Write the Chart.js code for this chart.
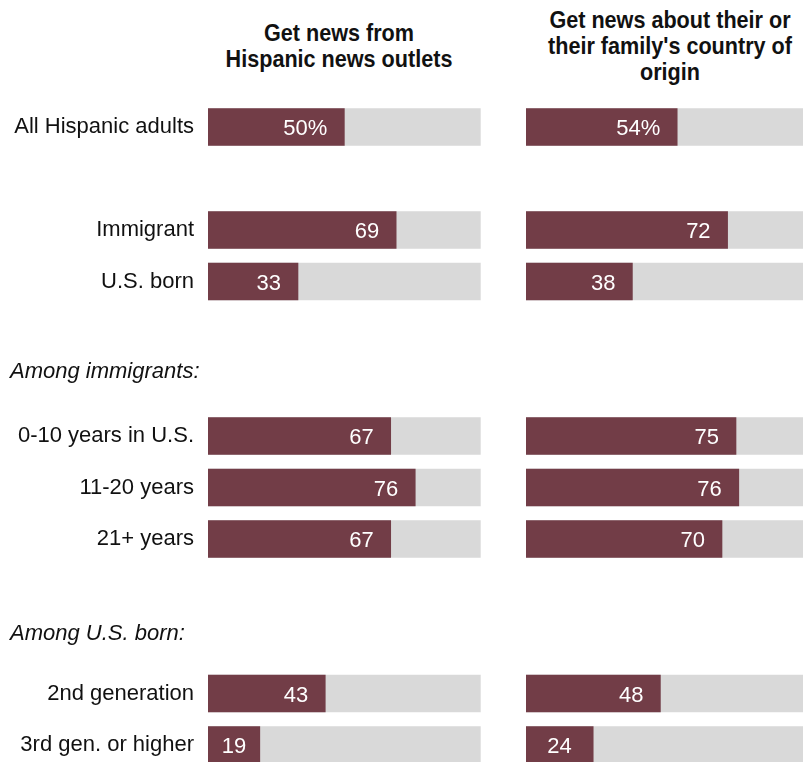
<!DOCTYPE html>
<html>
<head>
<meta charset="utf-8">
<script src="https://cdn.jsdelivr.net/npm/chart.js@4/dist/chart.umd.min.js"></script>
<style>
  html, body { margin: 0; padding: 0; background: #fff; overflow: hidden; }
  #wrap { position: relative; width: 803px; height: 762px; overflow: hidden; }
  canvas { position: absolute; top: 0; }
  #leftChart { left: 0; }
  #rightChart { left: 500px; }
  .title {
    position: absolute;
    font: bold 24px 'Liberation Sans', Arial, sans-serif;
    line-height: 26px;
    text-align: center;
    color: #111;
    white-space: nowrap;
    transform: scaleX(0.9);
  }
</style>
</head>
<body>
<div id="wrap">
  <div class="title" style="left:189px; width:300px; top:20px;">Get news from<br>Hispanic news outlets</div>
  <div class="title" style="left:520px; width:300px; top:7px;">Get news about their or<br>their family's country of<br>origin</div>
  <canvas id="leftChart" width="490" height="800"></canvas>
  <canvas id="rightChart" width="320" height="800"></canvas>
</div>
<script>
  // rows with '' are spacer rows (group headers sit in them)
  const categories = ['All Hispanic adults', '', 'Immigrant', 'U.S. born', '', '',
    '0-10 years in U.S.', '11-20 years', '21+ years', '', '', '2nd generation', '3rd gen. or higher'];
  const hispanicOutlets = [50, null, 69, 33, null, null, 67, 76, 67, null, null, 43, 19];
  const countryOfOrigin = [54, null, 72, 38, null, null, 75, 76, 70, null, null, 48, 24];
  const fullBar = [100, null, 100, 100, null, null, 100, 100, 100, null, null, 100, 100];
  const groupHeaders = ['Among immigrants:', 'Among U.S. born:'];
  const headerRows = [5, 10];

  const MAROON = '#723d47';
  const GREY = '#d9d9d9';
  const FONT = '"Liberation Sans", Arial, sans-serif';

  const valueLabels = {
    id: 'valueLabels',
    afterDatasetsDraw(chart) {
      const ctx = chart.ctx;
      const meta = chart.getDatasetMeta(1);
      const values = chart.data.datasets[1].data;
      ctx.save();
      ctx.font = '22px ' + FONT;
      ctx.fillStyle = '#fff';
      ctx.textBaseline = 'alphabetic';
      meta.data.forEach((bar, i) => {
        const v = values[i];
        if (v == null) return;
        const { x, y, base } = bar.getProps(['x', 'y', 'base'], true);
        const txt = i === 0 ? v + '%' : String(v);
        const w = ctx.measureText(txt).width;
        let tx;
        if (x - base < 70) {
          tx = (x + base) / 2 - w / 2;  // short bars: centre the number
        } else {
          tx = x - 17 - w;
        }
        ctx.fillText(txt, tx, y + 8);
      });
      ctx.restore();
    }
  };

  const headerLabels = {
    id: 'headerLabels',
    afterDraw(chart) {
      const ctx = chart.ctx;
      const yScale = chart.scales.y;
      ctx.save();
      ctx.font = 'italic 22px ' + FONT;
      ctx.fillStyle = '#111';
      ctx.textBaseline = 'alphabetic';
      const shifts = [-7, -2];
      groupHeaders.forEach((h, k) => {
        ctx.fillText(h, 10, yScale.getPixelForValue(headerRows[k]) + shifts[k]);
      });
      ctx.restore();
    }
  };

  function makePanel(canvasId, values, showLabels, padding) {
    const yAxis = {
      display: showLabels,
      grid: { display: false, drawTicks: false },
      border: { display: false },
      ticks: {
        autoSkip: false,
        padding: 14,
        labelOffset: 0,
        color: '#111',
        font: { family: FONT, size: 22 }
      }
    };
    if (showLabels) yAxis.afterFit = (scale) => { scale.width = 208; };

    return new Chart(document.getElementById(canvasId), {
      type: 'bar',
      data: {
        labels: categories,
        datasets: [
          { data: fullBar, backgroundColor: GREY, grouped: false, order: 2, barThickness: 37 },
          { data: values, backgroundColor: MAROON, grouped: false, order: 1, barThickness: 37 }
        ]
      },
      options: {
        indexAxis: 'y',
        responsive: false,
        animation: false,
        events: [],
        layout: { padding },
        plugins: { legend: { display: false }, tooltip: { enabled: false } },
        scales: {
          x: { display: false, min: 0, max: 100 },
          y: yAxis
        }
      },
      plugins: showLabels ? [valueLabels, headerLabels] : [valueLabels]
    });
  }

  makePanel('leftChart', hispanicOutlets, true, { top: 101.25, bottom: 29.25, left: 0, right: 9.3 });
  makePanel('rightChart', countryOfOrigin, false, { top: 101.25, bottom: 29.25, left: 26, right: 14 });
</script>
</body>
</html>
